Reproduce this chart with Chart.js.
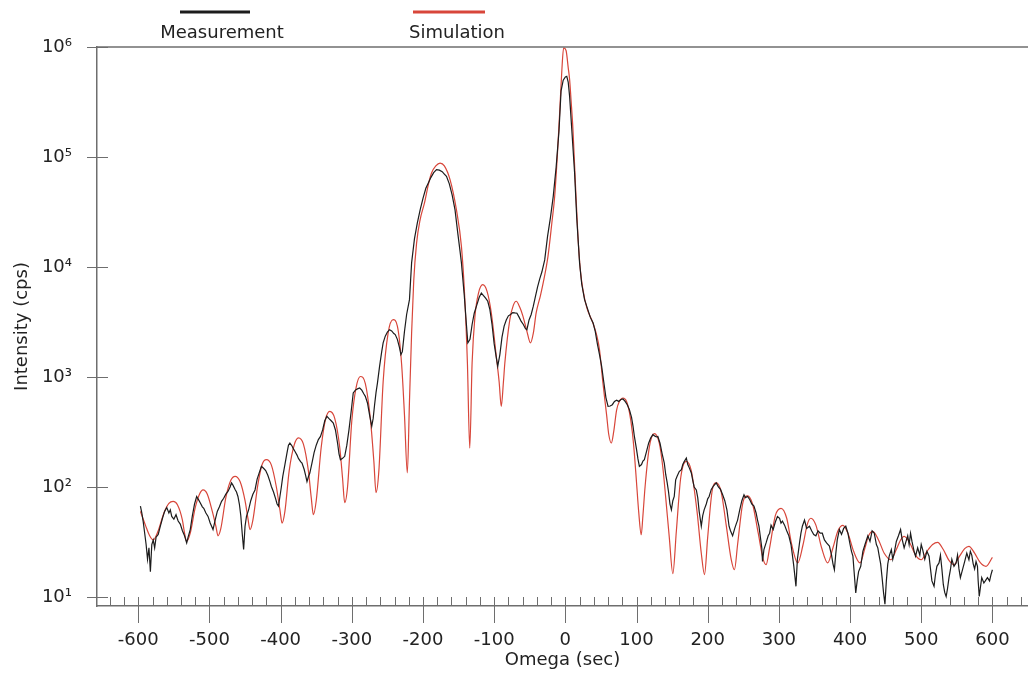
<!DOCTYPE html>
<html><head><meta charset="utf-8">
<script src="https://cdn.jsdelivr.net/npm/chart.js@4.4.1/dist/chart.umd.min.js"></script>
<style>html,body{margin:0;padding:0;background:#fff}canvas{display:block}</style>
</head><body>
<canvas id="c" width="1028" height="675"></canvas>
<script>
const seriesNames = ['Measurement', 'Simulation'];
const xTitle = 'Omega (sec)';
const yTitle = 'Intensity (cps)';
const xTickValues = [-600, -500, -400, -300, -200, -100, 0, 100, 200, 300, 400, 500, 600];
const yTickValues = [10, 100, 1000, 10000, 100000, 1000000];

const measOmega = [
-597,-595,-593,-591,-589,-587,-585,-583,-581,-579,-577,-575,-572,-569,-566,-563,-560,-557,-555,-553,-550,-547,-544,-541,-538,-535,-532,-530,-527,-524,-521,-518,-515,-513,-510,-508,-505,-502,-499,-497,-495,-492,-489,-486,-483,-480,-477,-474,-471,-469,-467,-464,-462,-460,-458,-456,-454,-452,-450,-448,-445,-442,-439,-436,-433,-430,-427,-424,-421,-418,-415,-413,-410,-407,-405,-403,-401,-399,-397,-394,-391,-389,-387,-384,-382,-380,-377,-375,-372,-370,-367,-365,-363,-361,-359,-356,-353,-350,-347,-344,-341,-338,-335,-332,-329,-326,-323,-320,-318,-316,-313,-310,-307,-304,-301,-298,-295,-292,-289,-286,-283,-281,-278,-275,-272,-270,-268,-266,-264,-261,-258,-256,-253,-250,-247,-244,-241,-239,-236,-233,-231,-229,-226,-223,-219,-216,-212,-208,-204,-200,-196,-192,-189,-185,-181,-177,-173,-170,-167,-163,-159,-155,-151,-148,-146,-142,-139,-137,-134,-131,-128,-125,-121,-118,-115,-112,-109,-106,-103,-100,-97,-95,-92,-89,-86,-83,-80,-77,-74,-71,-68,-65,-62,-59,-56,-54,-51,-48,-45,-42,-39,-36,-33,-29,-25,-21,-17,-13,-9,-6,-3,0,2,4,6,9,13,16,20,23,27,31,35,39,42,45,48,51,54,57,60,63,66,69,72,75,78,81,84,87,90,93,95,97,100,102,104,107,109,111,114,117,120,123,126,128,130,133,136,139,141,143,145,147,149,151,153,155,157,160,163,165,167,170,172,174,177,179,181,184,186,188,191,193,195,198,200,202,205,208,212,215,218,221,224,227,230,232,235,238,240,242,245,248,251,253,256,259,262,265,268,270,272,274,276,277,279,282,285,287,289,292,295,298,301,303,305,308,311,314,317,319,321,324,326,329,331,333,336,339,343,346,349,352,355,358,361,364,367,371,374,376,378,380,382,385,388,391,394,397,400,402,404,406,408,410,412,415,418,421,425,428,431,434,437,439,441,443,445,447,449,451,453,455,458,460,462,465,468,471,473,476,478,481,483,485,487,490,492,495,498,500,502,505,508,511,513,515,518,520,522,525,527,529,531,533,535,537,539,541,543,546,549,551,553,555,558,561,564,567,569,571,573,575,577,579,580,581.5,583,585,588,590,593,596,598,600
];
const measIntensity = [
67,58,48,38,30,22,28,17,30,33,28,35,37,44,52,60,65,58,62,54,51,56,49,46,40,36,31,35,41,55,70,82,76,72,66,64,58,54,47,44,41,50,60,66,74,79,86,91,100,109,104,95,90,82,70,55,38,27,44,54,62,75,86,94,118,135,154,148,141,128,112,101,90,78,70,67,82,100,125,160,205,240,251,236,222,211,195,182,170,165,145,128,112,124,134,165,205,240,270,288,330,400,439,418,400,382,330,250,200,177,182,190,240,330,480,716,760,780,794,760,700,667,580,450,356,420,560,720,881,1250,1700,2040,2350,2560,2690,2620,2480,2430,2200,1850,1600,1700,2600,3700,5050,10900,18000,25000,33000,42000,52000,59000,65000,72000,76700,76000,73500,70000,66700,57000,45000,33000,20000,14000,10900,5500,3000,2040,2200,3000,3800,4380,5300,5800,5500,5200,4880,4100,3000,2000,1500,1250,1600,2300,2900,3300,3600,3700,3850,3820,3800,3500,3200,3000,2750,2690,3300,3700,4400,5400,6600,7800,9000,11600,19000,28000,43800,80000,170000,400000,500000,535000,541000,480000,356000,180000,71600,28000,10900,7000,5050,4200,3500,3100,2600,2000,1600,1250,900,650,541,545,560,600,615,600,625,631,600,560,505,430,360,288,220,180,154,160,172,177,210,250,280,299,290,285,288,250,200,165,130,110,90,70,62,75,82,116,125,138,144,160,170,183,160,150,134,115,100,94,80,60,44,55,62,70,78,82,95,102,109,100,95,85,75,62,44,40,36,42,46,50,62,75,85,80,82,77,70,67,58,50,44,35,28,21,27,31,36,38,45,41,48,54,52,47,49,45,40,36,30,24,19,12.5,22,31,38,44,50,42,44,40,37,36,40,38,38,33,31,29,24,20,17.7,25,33,41,37,42,44,38,30,26,23.5,16,10.9,14,17,19,26,30,36,32,40,38,30,28,23.5,20,15,11,8.6,14,20,23.5,27,22,25,32,36,41,34,28,31,36,30,38,32,26,23.5,28,24,30,27,22,26,23.5,18,14,12.5,16,19,20.4,24,18,13,11,10.1,12,15,17.7,22,19,20.4,24,18,15,17.7,21,25,21.8,26,24,20,18,21,19,14,10.1,12,15,13.4,14,15,14,16,17.7
];

const simOmega = [
-597,-590,-584,-579,-572,-564,-557,-551,-545,-538,-535,-532,-527,-520,-514,-509,-503,-496,-491,-488,-484,-477,-470,-464,-457,-450,-446,-443,-439,-432,-426,-420,-413,-406,-401,-398,-394,-388,-381,-375,-368,-361,-357,-354,-350,-343,-337,-331,-324,-317,-313,-310,-306,-300,-294,-288,-281,-274,-269,-266,-262,-256,-249,-242,-236,-230,-226,-222,-219,-216,-213,-209,-204,-198,-192,-188,-182,-176,-170,-162,-153,-146,-141.4,-137.6,-134.3,-131,-127,-122,-116,-110,-104,-97,-93,-90,-87,-85,-78,-73,-69,-64,-59.5,-54,-49,-45,-41,-35,-30,-24.4,-19,-15,-11,-8,-5,-2.4,1,4,6,8,10.7,14,17.7,21,24.7,30,38.7,44,48,52.8,58,61,64.6,68,72,76,81,86,90,94,97,100,103,106.6,109,112,118,125,132,137,141,146,151,156,162,170,177,185,191,195.5,200,206,212,219,226,233,237.6,242,249,256,263,271,278,282,287,295,303,311,318,326.5,334,340,345,352,360,368.6,376,383,390,397,405,414,421,426,432,440,448,457.5,465,471,476,484,492,500,508,516,523,531,539,546,553,561,567,575,583,591,600
];
const simIntensity = [
60,45,36,33,40,58,71,74,69,50,38,32,38,65,86,94,86,60,44,36,42,80,115,125,112,75,52,41,50,105,160,177,158,100,62,47,60,140,240,279,245,140,80,56,75,230,410,486,420,230,120,72,100,400,800,1010,870,420,170,89,140,900,2500,3320,2900,1300,450,134,600,2500,7500,16500,27000,38000,58000,71600,83000,88100,83000,62200,33000,15400,5400,1340,226,1340,3560,5800,6900,6000,3820,1540,900,540,900,1340,3320,4500,4880,4300,3560,2600,2040,2500,3820,5500,7800,12500,25000,43800,110000,251000,600000,980000,930000,650000,505000,330000,177000,60000,19000,9500,6220,4300,3100,2400,1770,881,450,300,251,320,500,600,644,600,480,320,200,110,60,36.8,55,100,230,305,250,150,80,35,16.3,40,120,171,140,60,25,16,35,90,109,90,45,22,17.7,30,70,83,70,38,22,19.7,28,55,64,52,30,20.4,30,46,52,45,28,20.4,28,40,44.8,38,26,20.4,28,36,39.5,33,25,21.8,27,33,35.6,31,24,21.8,26,30,31.4,27,21.5,19.7,23,27.5,28.9,25,20.5,19,22.9
];

const supDigits = ['\u2070','\u00B9','\u00B2','\u00B3','\u2074','\u2075','\u2076','\u2077','\u2078','\u2079'];
const FONT = 'DejaVu Sans';
const TEXT = '#222222';
const AXIS = '#6e6e6e';

function pairs(xs, ys) { return xs.map((x, i) => ({ x: x, y: ys[i] })); }

const axisDecor = {
  id: 'axisDecor',
  afterDraw(chart) {
    const { ctx, chartArea: a, scales: { x, y } } = chart;
    const seg = (x1, y1, x2, y2) => { ctx.beginPath(); ctx.moveTo(x1, y1); ctx.lineTo(x2, y2); ctx.stroke(); };
    ctx.save();
    ctx.strokeStyle = AXIS;
    ctx.lineWidth = 1.5;
    seg(a.left, a.top, a.right, a.top);
    ctx.lineWidth = 1;
    yTickValues.forEach(v => {
      const py = Math.round(y.getPixelForValue(v)) + 0.5;
      seg(a.left - 10, py, a.left + 11, py);
    });
    xTickValues.forEach(v => {
      const px = Math.round(x.getPixelForValue(v)) + 0.5;
      seg(px, a.bottom - 9, px, a.bottom + 17);
    });
    for (let v = -640; v <= 640; v += 20) {
      if (v % 100 === 0) continue;
      const px = Math.round(x.getPixelForValue(v)) + 0.5;
      seg(px, a.bottom - 9, px, a.bottom);
    }
    ctx.restore();
  }
};

const topLegend = {
  id: 'topLegend',
  afterDraw(chart, args, opts) {
    const ctx = chart.ctx;
    ctx.save();
    chart.data.datasets.forEach((ds, i) => {
      const it = opts.items[i];
      ctx.strokeStyle = ds.borderColor;
      ctx.lineWidth = 3;
      ctx.beginPath(); ctx.moveTo(it.lineX, 12); ctx.lineTo(it.lineX + it.lineW, 12); ctx.stroke();
      ctx.fillStyle = TEXT;
      ctx.font = '18px "' + FONT + '"';
      ctx.textAlign = 'center';
      ctx.textBaseline = 'alphabetic';
      ctx.fillText(ds.label, it.textX, 38);
    });
    ctx.restore();
  }
};

new Chart(document.getElementById('c'), {
  type: 'scatter',
  data: {
    datasets: [
      { label: seriesNames[0], data: pairs(measOmega, measIntensity), showLine: true,
        borderColor: '#1c1c1c', borderWidth: 1.2, pointRadius: 0, tension: 0 },
      { label: seriesNames[1], data: pairs(simOmega, simIntensity), showLine: true,
        borderColor: '#d8463a', borderWidth: 1.2, pointRadius: 0, cubicInterpolationMode: 'monotone' }
    ]
  },
  options: {
    responsive: false, animation: false, devicePixelRatio: 1,
    layout: { padding: { top: 47, left: 0, right: 0, bottom: 0 } },
    plugins: {
      legend: { display: false }, tooltip: { enabled: false },
      topLegend: { items: [ { lineX: 180, lineW: 70, textX: 222 }, { lineX: 413, lineW: 72, textX: 457 } ] }
    },
    scales: {
      x: {
        type: 'linear', min: -658, max: 650, bounds: 'data',
        afterBuildTicks: s => { s.ticks = xTickValues.map(v => ({ value: v })); },
        afterFit: s => { s.height = 69; s.paddingLeft = 0; s.paddingRight = 0; },
        grid: { display: false, drawTicks: false },
        border: { display: true, color: AXIS, width: 1.5 },
        ticks: { font: { family: FONT, size: 18 }, color: TEXT, padding: 24, maxRotation: 0, autoSkip: false },
        title: { display: true, text: xTitle, font: { family: FONT, size: 18 }, color: TEXT, padding: { top: 0, bottom: 4 } }
      },
      y: {
        type: 'logarithmic', min: 8.28, max: 1000000, bounds: 'data',
        afterBuildTicks: s => { s.ticks = yTickValues.map(v => ({ value: v })); },
        afterFit: s => { s.width = 97; s.paddingTop = 0; s.paddingBottom = 0; },
        grid: { display: false, drawTicks: false },
        border: { display: true, color: AXIS, width: 1.5 },
        ticks: { font: { family: FONT, size: 18 }, color: TEXT, padding: 25, autoSkip: false,
          callback: v => '10' + supDigits[Math.round(Math.log10(v))] },
        title: { display: true, text: yTitle, font: { family: FONT, size: 18 }, color: TEXT, padding: { top: 12, bottom: 0 } }
      }
    }
  },
  plugins: [axisDecor, topLegend]
});
</script>
</body></html>
